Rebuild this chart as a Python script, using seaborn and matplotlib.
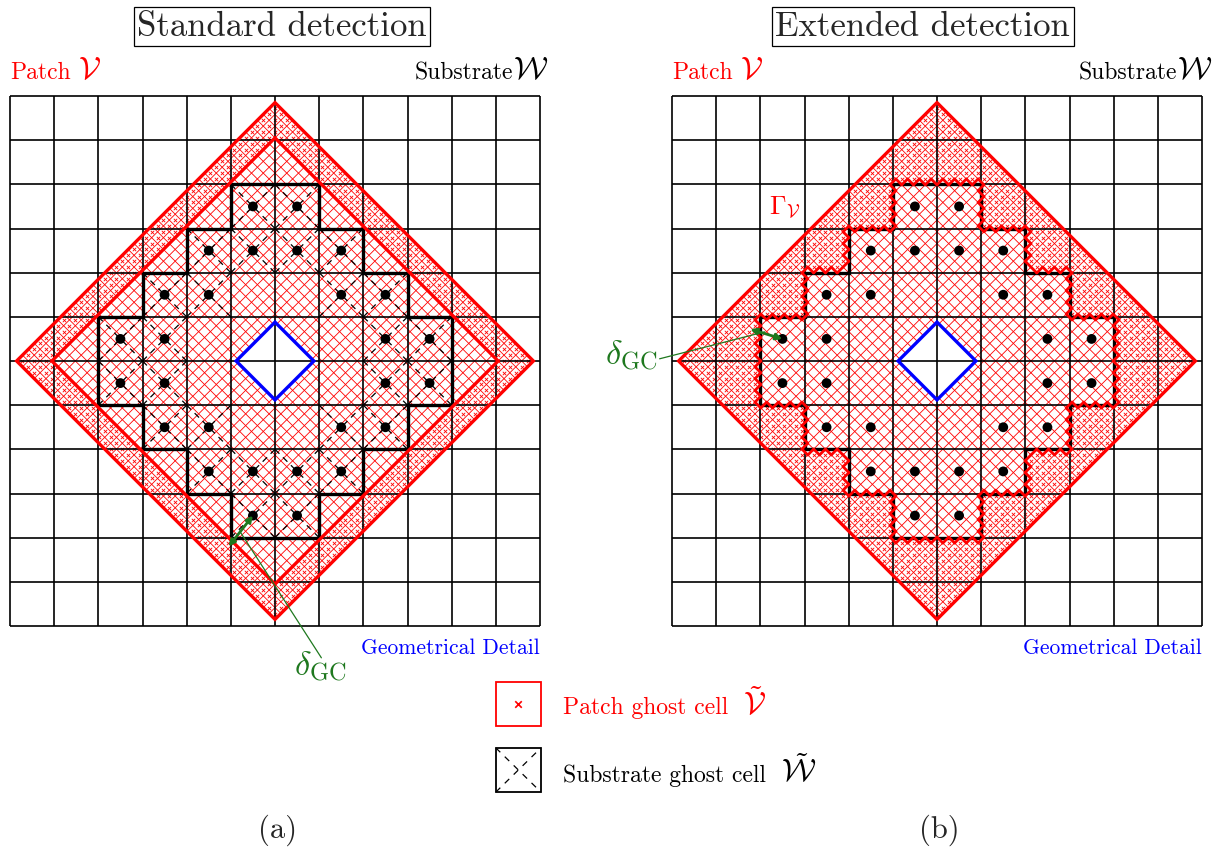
import numpy as np
import pandas as pd
import matplotlib
matplotlib.use("Agg")
import matplotlib.pyplot as plt
from matplotlib.collections import LineCollection
from matplotlib.patches import Polygon, Rectangle
from matplotlib.offsetbox import TextArea, HPacker, AnnotationBbox
import seaborn as sns

# substrate grid W and patch V, in substrate cell units (origin bottom-left)
N_CELLS = 12
CENTER = 6.0
R_PATCH = 5.85        # half diagonal of the patch diamond
N_PATCH = 44          # patch cells along each diagonal direction
GHOST_LAYERS = 3      # patch ghost layers (standard detection)
R_DETAIL = 0.88       # half diagonal of the geometrical detail

# fluid cells of the substrate, row counted from the top
FLUID_ROWS = [2, 3, 4, 5, 6, 7, 8, 9]
FLUID_FIRST = [5, 4, 3, 2, 2, 3, 4, 5]
FLUID_LAST = [6, 7, 8, 9, 9, 8, 7, 6]

# cells carrying a dot (column, row from top)
DOT_COLS = [5, 6, 4, 5, 6, 7, 3, 4, 7, 8, 2, 3, 8, 9,
            2, 3, 8, 9, 3, 4, 7, 8, 4, 5, 6, 7, 5, 6]
DOT_ROWS = [2, 2, 3, 3, 3, 3, 4, 4, 4, 4, 5, 5, 5, 5,
            6, 6, 6, 6, 7, 7, 7, 7, 8, 8, 8, 8, 9, 9]

# delta_GC arrows and their labels (data units of each panel)
ARROW_A = [(4.95, 1.80), (5.50, 2.50)]
LEADER_A = [(7.05, -0.72), (5.20, 2.15)]
LABEL_A = (7.02, -0.90)
ARROW_B = [(1.77, 6.72), (2.50, 6.50)]
LEADER_B = [(-0.28, 6.05), (2.10, 6.66)]
LABEL_B = (-0.92, 6.14)

TITLES = ["Standard detection", "Extended detection"]
TITLE_X = [6.16, 5.68]
PANEL_TAGS = ["(a)", "(b)"]

RED = "#ff0000"
BLUE = "#0000ff"
GREEN = "#1e781e"

sns.set_style("white")
plt.rcParams["font.family"] = ["cmr10", "DejaVu Serif"]
plt.rcParams["mathtext.fontset"] = "cm"
plt.rcParams["axes.unicode_minus"] = False

W, H = 1224, 854
fig = plt.figure(figsize=(W / 100, H / 100), dpi=100)
ax_a = fig.add_axes([10 / W, (H - 627) / H, 530 / W, 530 / H])
ax_b = fig.add_axes([672 / W, (H - 627) / H, 530 / W, 530 / H])

h = 2 * R_PATCH / N_PATCH
uc = -R_PATCH + (np.arange(N_PATCH) + 0.5) * h
U, V = np.meshgrid(uc, uc, indexing="ij")
XC = CENTER + (U + V) / 2
YC = CENTER + (U - V) / 2


def to_xy(u, v):
    return CENTER + (u + v) / 2, CENTER + (u - v) / 2


def diamond(r):
    return [(CENTER, CENTER + r), (CENTER + r, CENTER),
            (CENTER, CENTER - r), (CENTER - r, CENTER)]


def fluid_mask():
    col = np.floor(XC).astype(int)
    row = np.floor(N_CELLS - YC).astype(int)
    mask = np.zeros_like(XC, dtype=bool)
    for r, a, b in zip(FLUID_ROWS, FLUID_FIRST, FLUID_LAST):
        mask |= (row == r) & (col >= a) & (col <= b)
    return mask


def boundary_segments(inside):
    segs = []
    n = inside.shape[0]
    for k in range(n):
        for m in range(n):
            if not inside[k, m]:
                continue
            for dk, dm in [(1, 0), (-1, 0), (0, 1), (0, -1)]:
                kk, mm = k + dk, m + dm
                if 0 <= kk < n and 0 <= mm < n and inside[kk, mm]:
                    continue
                if dk != 0:
                    u = uc[k] + dk * h / 2
                    segs.append([to_xy(u, uc[m] - h / 2), to_xy(u, uc[m] + h / 2)])
                else:
                    v = uc[m] + dm * h / 2
                    segs.append([to_xy(uc[k] - h / 2, v), to_xy(uc[k] + h / 2, v)])
    return segs


def label(ax, xy, text, sym, color, size, sym_size, sep, align_x):
    parts = [TextArea(text, textprops=dict(color=color, fontsize=size)),
             TextArea(sym, textprops=dict(color=color, fontsize=sym_size))]
    box = HPacker(children=parts, align="baseline", pad=0, sep=sep)
    ab = AnnotationBbox(box, xy, xycoords="data", box_alignment=(align_x, 0.5),
                        frameon=False, annotation_clip=False, zorder=8)
    ax.add_artist(ab)


def draw_panel(ax, extended, idx):
    ax.set_xlim(0, N_CELLS)
    ax.set_ylim(0, N_CELLS)
    ax.axis("off")

    # patch lattice
    segs = []
    for k in range(1, N_PATCH):
        s = -R_PATCH + k * h
        segs.append([to_xy(s, -R_PATCH), to_xy(s, R_PATCH)])
        segs.append([to_xy(-R_PATCH, s), to_xy(R_PATCH, s)])
    ax.add_collection(LineCollection(segs, colors=RED, linewidths=0.6, zorder=1))

    if extended:
        inside = fluid_mask()
    else:
        inside = np.maximum(np.abs(U), np.abs(V)) < R_PATCH - GHOST_LAYERS * h
    ghost = ~inside
    ax.scatter(XC[ghost], YC[ghost], marker="x", s=6, linewidths=0.6,
               color=RED, zorder=1.5)

    # hole of the geometrical detail
    ax.add_patch(Polygon(diamond(R_DETAIL), closed=True, fc="white", ec="none", zorder=1.8))

    # substrate grid
    ticks = np.arange(N_CELLS + 1)
    ax.vlines(ticks, 0, N_CELLS, colors="black", linewidth=1.2, zorder=2, clip_on=False)
    ax.hlines(ticks, 0, N_CELLS, colors="black", linewidth=1.2, zorder=2, clip_on=False)

    # substrate ghost cells (dashed crosses)
    if not extended:
        xsegs = []
        for c, r in zip(DOT_COLS, DOT_ROWS):
            top, bot = N_CELLS - r, N_CELLS - r - 1
            xsegs.append([(c, bot), (c + 1, top)])
            xsegs.append([(c, top), (c + 1, bot)])
        ax.add_collection(LineCollection(xsegs, colors="black", linewidths=0.9,
                                         linestyles=[(0, (5, 4))], zorder=2.5))

    # fluid region outline
    verts = []
    for r, b in zip(FLUID_ROWS, FLUID_LAST):
        verts += [(b + 1, N_CELLS - r), (b + 1, N_CELLS - r - 1)]
    for r, a in zip(FLUID_ROWS[::-1], FLUID_FIRST[::-1]):
        verts += [(a, N_CELLS - r - 1), (a, N_CELLS - r)]
    ax.add_patch(Polygon(verts, closed=True, fc="none", ec="black", lw=2.4, zorder=3))

    # patch outline and ghost boundary
    ax.add_patch(Polygon(diamond(R_PATCH), closed=True, fc="none", ec=RED, lw=2.4,
                         zorder=4, clip_on=False))
    if extended:
        ax.add_collection(LineCollection(boundary_segments(inside), colors=RED,
                                         linewidths=2.0, capstyle="round", zorder=4))
        ax.text(2.56, 9.5, r"$\Gamma_{\mathcal{V}}$", color=RED, fontsize=19,
                ha="center", va="center", zorder=8)
    else:
        ax.add_patch(Polygon(diamond(R_PATCH - GHOST_LAYERS * h), closed=True, fc="none",
                             ec=RED, lw=2.4, zorder=4))

    # geometrical detail
    ax.add_patch(Polygon(diamond(R_DETAIL), closed=True, fc="none", ec=BLUE, lw=2.4, zorder=5))

    dots = pd.DataFrame({"x": np.array(DOT_COLS) + 0.5,
                         "y": N_CELLS - np.array(DOT_ROWS) - 0.5})
    sns.scatterplot(data=dots, x="x", y="y", color="black", s=50, edgecolor="none",
                    ax=ax, zorder=6, legend=False)
    ax.set_xlabel("")
    ax.set_ylabel("")

    # delta_GC
    arrow, leader, lab = (ARROW_B, LEADER_B, LABEL_B) if extended else (ARROW_A, LEADER_A, LABEL_A)
    ax.annotate("", xy=arrow[1], xytext=arrow[0], zorder=7,
                arrowprops=dict(arrowstyle="<|-|>", color=GREEN, lw=2.0,
                                mutation_scale=9, shrinkA=0, shrinkB=0))
    ax.plot([p[0] for p in leader], [p[1] for p in leader], color=GREEN, lw=0.9,
            zorder=7, clip_on=False)
    ax.text(lab[0], lab[1], r"$\delta_{\mathrm{GC}}$", color=GREEN, fontsize=25,
            ha="center", va="center")

    # labels
    ax.text(TITLE_X[idx], 13.58, TITLES[idx], fontsize=25, ha="center", va="center",
            bbox=dict(boxstyle="square,pad=0.1", fc="white", ec="black", lw=0.9))
    label(ax, (0.0, 12.58), "Patch", r"$\mathcal{V}$", RED, 17, 23, 5, 0.0)
    label(ax, (12.18 + 0.04 * idx, 12.58), "Substrate", r"$\mathcal{W}$", "black", 17, 23, 0, 1.0)
    ax.text(12.0, -0.47, "Geometrical Detail", color=BLUE, fontsize=15.5,
            ha="right", va="center")
    ax.text(6.05, -4.6, PANEL_TAGS[idx], fontsize=22, ha="center", va="center")


draw_panel(ax_a, False, 0)
draw_panel(ax_b, True, 1)

# legend for ghost cells
ax_a.add_patch(Rectangle((11.0, -2.26), 1.02, 1.0, fc="white", ec=RED, lw=1.3, clip_on=False))
ax_a.scatter([11.51], [-1.76], marker="x", s=22, linewidths=1.2, color=RED, clip_on=False)
ax_a.add_patch(Rectangle((11.0, -3.76), 1.02, 1.0, fc="white", ec="black", lw=1.3, clip_on=False))
legend_x = LineCollection([[(11.0, -3.76), (12.02, -2.76)], [(11.0, -2.76), (12.02, -3.76)]],
                          colors="black", linewidths=0.9, linestyles=[(0, (5, 5))])
legend_x.set_clip_on(False)
ax_a.add_collection(legend_x)
label(ax_a, (12.52, -1.74), "Patch ghost cell", r"$\tilde{\mathcal{V}}$", RED, 17, 23, 11, 0.0)
label(ax_a, (12.52, -3.26), "Substrate ghost cell", r"$\tilde{\mathcal{W}}$", "black", 17, 23, 11, 0.0)

fig.savefig("out.png", dpi=100)
